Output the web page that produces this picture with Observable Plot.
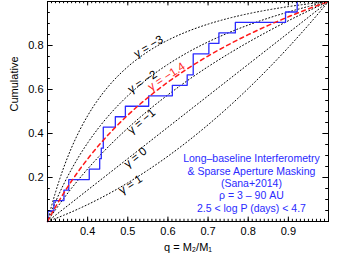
<!DOCTYPE html>
<html>
<head>
<meta charset="utf-8">
<script src="https://cdn.jsdelivr.net/npm/d3@7"></script>
<script src="https://cdn.jsdelivr.net/npm/@observablehq/plot@0.6"></script>
<style>
  html, body { margin: 0; padding: 0; background: #fff; }
  #chart svg { display: block; }
</style>
</head>
<body>
<div id="chart"></div>
<script>
// ---- data ----
// sample grid for the model cumulative curves (power law f(q) ~ q^gamma on 0.3 < q < 1)
const qGrid = [0.30, 0.31, 0.32, 0.34, 0.36, 0.38, 0.40, 0.43, 0.46, 0.50, 0.55, 0.60, 0.65, 0.70, 0.75, 0.80, 0.85, 0.90, 0.95, 1.00];
const cdfGammaM3  = [0, 0.0698, 0.1331, 0.2434, 0.3358, 0.4140, 0.4808, 0.5640, 0.6315, 0.7033, 0.7720, 0.8242, 0.8648, 0.8971, 0.9231, 0.9444, 0.9620, 0.9768, 0.9893, 1];
const cdfGammaM2  = [0, 0.0461, 0.0893, 0.1681, 0.2381, 0.3008, 0.3571, 0.4319, 0.4969, 0.5714, 0.6494, 0.7143, 0.7692, 0.8163, 0.8571, 0.8929, 0.9244, 0.9524, 0.9774, 1];
const cdfGammaM14 = [0, 0.0341, 0.0667, 0.1278, 0.1840, 0.2361, 0.2844, 0.3509, 0.4112, 0.4835, 0.5633, 0.6336, 0.6960, 0.7521, 0.8029, 0.8491, 0.8914, 0.9304, 0.9665, 1];
const cdfGammaM1  = [0, 0.0272, 0.0536, 0.1040, 0.1514, 0.1963, 0.2389, 0.2990, 0.3550, 0.4243, 0.5034, 0.5757, 0.6422, 0.7038, 0.7611, 0.8147, 0.8650, 0.9125, 0.9574, 1];
const cdfGamma0   = [0, 0.0143, 0.0286, 0.0571, 0.0857, 0.1143, 0.1429, 0.1857, 0.2286, 0.2857, 0.3571, 0.4286, 0.5000, 0.5714, 0.6429, 0.7143, 0.7857, 0.8571, 0.9286, 1];
const cdfGammaP1  = [0, 0.0067, 0.0136, 0.0281, 0.0435, 0.0598, 0.0769, 0.1043, 0.1336, 0.1758, 0.2335, 0.2967, 0.3654, 0.4396, 0.5192, 0.6044, 0.6951, 0.7912, 0.8929, 1];

// observed mass ratios (sorted), long-baseline interferometry + SAM sample
const sampleQ = [0.301, 0.316, 0.341, 0.353, 0.404, 0.430, 0.434, 0.439, 0.439, 0.469, 0.494,
                 0.552, 0.611, 0.648, 0.663, 0.663, 0.702, 0.727, 0.768, 0.893, 0.922];

const xTickLabels = [0.4, 0.5, 0.6, 0.7, 0.8, 0.9];
const yTickLabels = [0.2, 0.4, 0.6, 0.8];

const curveLabels = ["γ = −3", "γ = −2", "γ = −1.4", "γ = −1", "γ = 0", "γ = 1"];
const annotationLines = ["Long–baseline Interferometry", "& Sparse Aperture Masking", "(Sana+2014)", "ρ = 3 – 90 AU", "2.5 < log P (days) < 4.7"];

// ---- derived tables ----
const models = [cdfGammaM3, cdfGammaM2, cdfGammaM1, cdfGamma0, cdfGammaP1].map(vals => qGrid.map((q, i) => ({q, F: vals[i]})));
const bestFit = qGrid.map((q, i) => ({q, F: cdfGammaM14[i]}));
const ecdf = [{q: 0.3, F: 0}, ...sampleQ.map((q, i) => ({q, F: (i + 1) / sampleQ.length}))];

// label anchors (data space) and orientation
const labelPlacement = [
  {q: 0.5516, F: 0.795, angle: -31, color: "black"},
  {q: 0.5367, F: 0.635, angle: -33, color: "black"},
  {q: 0.5965, F: 0.659, angle: -33, color: "#ff1a1a"},
  {q: 0.534,  F: 0.455, angle: -40, color: "black"},
  {q: 0.519,  F: 0.291, angle: -38, color: "black"},
  {q: 0.507,  F: 0.168, angle: -33, color: "black"}
];
const labelRows = curveLabels.map((t, i) => ({text: t, ...labelPlacement[i]}));

const xMinor = d3.range(30, 101).map(d => d / 100);
const xMajor = d3.range(3, 11).map(d => d / 10);
const yMinor = d3.range(0, 21).map(d => d / 20);
const yMajor = d3.range(0, 6).map(d => d / 5);

const blue = "#2a2aff";
const fontFamily = "'Liberation Sans', Arial, Helvetica, sans-serif";

const chart = Plot.plot({
  width: 344,
  height: 257,
  marginLeft: 47,
  marginRight: 16,
  marginTop: 1,
  marginBottom: 36,
  style: {fontFamily, fontSize: "11px", background: "white", color: "black"},
  x: {domain: [0.3, 1.0]},
  y: {domain: [0, 1]},
  marks: [
    // model curves
    ...models.map(m => Plot.line(m, {x: "q", y: "F", curve: "monotone-x", stroke: "black", strokeWidth: 1, strokeDasharray: "1,2.4"})),
    // observed cumulative distribution
    Plot.line(ecdf, {x: "q", y: "F", curve: "step-after", stroke: blue, strokeWidth: 1.3}),
    // best fit gamma = -1.4
    Plot.line(bestFit, {x: "q", y: "F", curve: "monotone-x", stroke: "#ff1a1a", strokeWidth: 1.5, strokeDasharray: "4,3.5"}),
    // curve labels
    Plot.text(labelRows, {x: "q", y: "F", text: "text", rotate: d => d.angle, fill: d => d.color, fontSize: 11.5}),
    // annotation
    Plot.text([annotationLines.join("\n")], {x: 0.808, y: 0.175, text: d => d, fill: blue, fontSize: 10.5, lineHeight: 1.18, lineAnchor: "middle", textAnchor: "middle"}),
    // inward ticks, all four sides
    Plot.ruleX(xMinor, {x: d => d, y1: 0, y2: 0.01, stroke: "black"}),
    Plot.ruleX(xMajor, {x: d => d, y1: 0, y2: 0.02, stroke: "black"}),
    Plot.ruleX(xMinor, {x: d => d, y1: 1, y2: 0.99, stroke: "black"}),
    Plot.ruleX(xMajor, {x: d => d, y1: 1, y2: 0.98, stroke: "black"}),
    Plot.ruleY(yMinor, {y: d => d, x1: 0.3, x2: 0.307, stroke: "black"}),
    Plot.ruleY(yMajor, {y: d => d, x1: 0.3, x2: 0.314, stroke: "black"}),
    Plot.ruleY(yMinor, {y: d => d, x1: 1.0, x2: 0.993, stroke: "black"}),
    Plot.ruleY(yMajor, {y: d => d, x1: 1.0, x2: 0.986, stroke: "black"}),
    Plot.frame({stroke: "black"}),
    // axes labels
    Plot.axisX({ticks: xTickLabels, tickSize: 0, tickPadding: 6, tickFormat: d3.format(".1f"), label: null, fontSize: 11}),
    Plot.axisY({ticks: yTickLabels, tickSize: 0, tickPadding: 4, tickFormat: d3.format(".1f"), label: null, fontSize: 11}),
    Plot.text(["q = M₂/M₁"], {frameAnchor: "bottom", dy: 26, lineAnchor: "middle", text: d => d, fontSize: 11}),
    Plot.text(["Cumulative"], {frameAnchor: "left", dx: -33, rotate: -90, text: d => d, fontSize: 11})
  ]
});
document.getElementById("chart").appendChild(chart);
</script>
</body>
</html>
